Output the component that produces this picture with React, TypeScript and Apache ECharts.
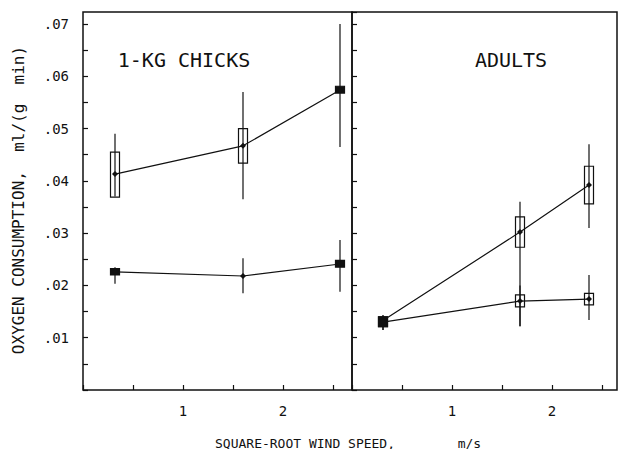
import React, { useEffect, useRef } from "react";
import * as echarts from "echarts";

// ---- data ----
const chicksX = [0.32, 1.6, 2.57];
const chicksUpperMean = [0.0413, 0.0467, 0.0574];
const chicksUpperBoxLow = [0.0369, 0.0434, 0.0568];
const chicksUpperBoxHigh = [0.0455, 0.05, 0.0581];
const chicksUpperErrLow = [0.037, 0.0365, 0.0465];
const chicksUpperErrHigh = [0.049, 0.057, 0.07];
const chicksUpperSolid = [0, 0, 1];

const chicksLowerMean = [0.0226, 0.0218, 0.0241];
const chicksLowerBoxLow = [0.022, 0.0218, 0.0235];
const chicksLowerBoxHigh = [0.0232, 0.0218, 0.0248];
const chicksLowerErrLow = [0.0203, 0.0185, 0.0188];
const chicksLowerErrHigh = [0.0235, 0.0252, 0.0287];
const chicksLowerSolid = [1, 0, 1];

const adultsX = [0.31, 1.68, 2.37];
const adultsUpperMean = [0.0133, 0.0302, 0.0392];
const adultsUpperBoxLow = [0.0121, 0.0273, 0.0356];
const adultsUpperBoxHigh = [0.014, 0.0331, 0.0428];
const adultsUpperErrLow = [0.0115, 0.0122, 0.031];
const adultsUpperErrHigh = [0.0143, 0.036, 0.047];
const adultsUpperSolid = [1, 0, 0];

const adultsLowerMean = [0.013, 0.017, 0.0174];
const adultsLowerBoxLow = [0.0121, 0.0159, 0.0163];
const adultsLowerBoxHigh = [0.014, 0.0182, 0.0185];
const adultsLowerErrLow = [0.0115, 0.0122, 0.0134];
const adultsLowerErrHigh = [0.0143, 0.02, 0.022];
const adultsLowerSolid = [1, 0, 0];

const panelTitles = ["1-KG CHICKS", "ADULTS"];
const xAxisTitle = "SQUARE-ROOT WIND SPEED,        m/s";
const yAxisTitle = "OXYGEN CONSUMPTION,  ml/(g  min)";
const yMax = 0.0723;
const xMaxChicks = 2.69;
const xMaxAdults = 2.65;

const MONO = '"DejaVu Sans Mono", "Liberation Mono", monospace';
const INK = "#111";

function boxData(x: number[], bl: number[], bh: number[], el: number[], eh: number[], solid: number[]) {
  return x.map((v, i) => [v, bl[i], bh[i], el[i], eh[i], solid[i]]);
}
function lineData(x: number[], y: number[]) {
  return x.map((v, i) => [v, y[i]]);
}

function renderBox(params: any, api: any) {
  const x = api.value(0);
  const bl = api.value(1);
  const bh = api.value(2);
  const el = api.value(3);
  const eh = api.value(4);
  const solid = api.value(5);
  const pEl = api.coord([x, el]);
  const pEh = api.coord([x, eh]);
  const pBl = api.coord([x, bl]);
  const pBh = api.coord([x, bh]);
  const children: any[] = [
    {
      type: "line",
      shape: { x1: pEl[0], y1: pEl[1], x2: pEh[0], y2: pEh[1] },
      style: { stroke: INK, lineWidth: 1.2 },
    },
  ];
  if (bh > bl) {
    children.push({
      type: "rect",
      shape: { x: pBl[0] - 4.5, y: pBh[1], width: 9, height: pBl[1] - pBh[1] },
      style: { fill: solid ? INK : "none", stroke: INK, lineWidth: 1.2 },
    });
  }
  return { type: "group", children };
}

function yLabel(v: number) {
  const k = Math.round(v * 100);
  if (v <= 0 || Math.abs(v * 100 - k) > 1e-6) return "";
  return ".0" + k;
}
function xLabel(v: number) {
  const k = Math.round(v);
  if (v <= 0 || Math.abs(v - k) > 1e-6) return "";
  return String(k);
}

export default function App() {
  const ref = useRef<HTMLDivElement>(null);
  useEffect(() => {
    if (!ref.current) return;
    const chart = echarts.init(ref.current, null, { renderer: "svg" });
    const gridBase = { top: 12, height: 378, show: true, borderColor: INK, borderWidth: 1.5, backgroundColor: "transparent" };
    const xAxisBase = {
      type: "value",
      min: 0,
      interval: 0.5,
      axisLine: { show: false },
      axisTick: { show: true, inside: true, length: 5, lineStyle: { color: INK, width: 1.2 } },
      axisLabel: { formatter: xLabel, margin: 14, fontFamily: MONO, fontSize: 14, color: INK, showMaxLabel: false },
      splitLine: { show: false },
    };
    const yAxisBase = {
      type: "value",
      min: 0,
      max: yMax,
      interval: 0.005,
      axisLine: { show: false },
      axisTick: { show: true, inside: true, length: 5, lineStyle: { color: INK, width: 1.2 } },
      splitLine: { show: false },
    };
    const lineSeries = (xi: number, data: number[][]) => ({
      type: "line",
      xAxisIndex: xi,
      yAxisIndex: xi,
      data,
      symbol: "diamond",
      symbolSize: 6,
      showSymbol: true,
      lineStyle: { color: INK, width: 1.2 },
      itemStyle: { color: INK },
      z: 3,
    });
    const boxSeries = (xi: number, data: number[][]) => ({
      type: "custom",
      xAxisIndex: xi,
      yAxisIndex: xi,
      renderItem: renderBox,
      data,
      encode: { x: 0, y: [1, 2, 3, 4] },
      z: 2,
    });
    chart.setOption({
      animation: false,
      backgroundColor: "#fff",
      grid: [
        { ...gridBase, left: 83, width: 269 },
        { ...gridBase, left: 352, width: 265 },
      ],
      xAxis: [
        { ...xAxisBase, gridIndex: 0, max: xMaxChicks },
        { ...xAxisBase, gridIndex: 1, max: xMaxAdults },
      ],
      yAxis: [
        {
          ...yAxisBase,
          gridIndex: 0,
          axisLabel: { formatter: yLabel, margin: 14, fontFamily: MONO, fontSize: 14, color: INK, showMaxLabel: false },
        },
        { ...yAxisBase, gridIndex: 1, axisLabel: { show: false } },
      ],
      series: [
        lineSeries(0, lineData(chicksX, chicksUpperMean)),
        lineSeries(0, lineData(chicksX, chicksLowerMean)),
        boxSeries(0, boxData(chicksX, chicksUpperBoxLow, chicksUpperBoxHigh, chicksUpperErrLow, chicksUpperErrHigh, chicksUpperSolid)),
        boxSeries(0, boxData(chicksX, chicksLowerBoxLow, chicksLowerBoxHigh, chicksLowerErrLow, chicksLowerErrHigh, chicksLowerSolid)),
        lineSeries(1, lineData(adultsX, adultsUpperMean)),
        lineSeries(1, lineData(adultsX, adultsLowerMean)),
        boxSeries(1, boxData(adultsX, adultsUpperBoxLow, adultsUpperBoxHigh, adultsUpperErrLow, adultsUpperErrHigh, adultsUpperSolid)),
        boxSeries(1, boxData(adultsX, adultsLowerBoxLow, adultsLowerBoxHigh, adultsLowerErrLow, adultsLowerErrHigh, adultsLowerSolid)),
      ],
      graphic: [
        {
          type: "text",
          x: 184,
          y: 60,
          style: { text: panelTitles[0], font: `20px ${MONO}`, fill: INK, textAlign: "center", textVerticalAlign: "middle" },
        },
        {
          type: "text",
          x: 511,
          y: 60,
          style: { text: panelTitles[1], font: `20px ${MONO}`, fill: INK, textAlign: "center", textVerticalAlign: "middle" },
        },
        {
          type: "text",
          x: 215,
          y: 443,
          style: { text: xAxisTitle, font: `13px ${MONO}`, fill: INK, textAlign: "left", textVerticalAlign: "middle" },
        },
        {
          type: "text",
          x: 18,
          y: 200,
          rotation: Math.PI / 2,
          style: { text: yAxisTitle, font: `16px ${MONO}`, fill: INK, textAlign: "center", textVerticalAlign: "middle" },
        },
      ],
    });
    return () => chart.dispose();
  }, []);
  return <div ref={ref} style={{ position: "fixed", left: 0, top: 0, width: 618, height: 449, background: "#fff" }} />;
}
